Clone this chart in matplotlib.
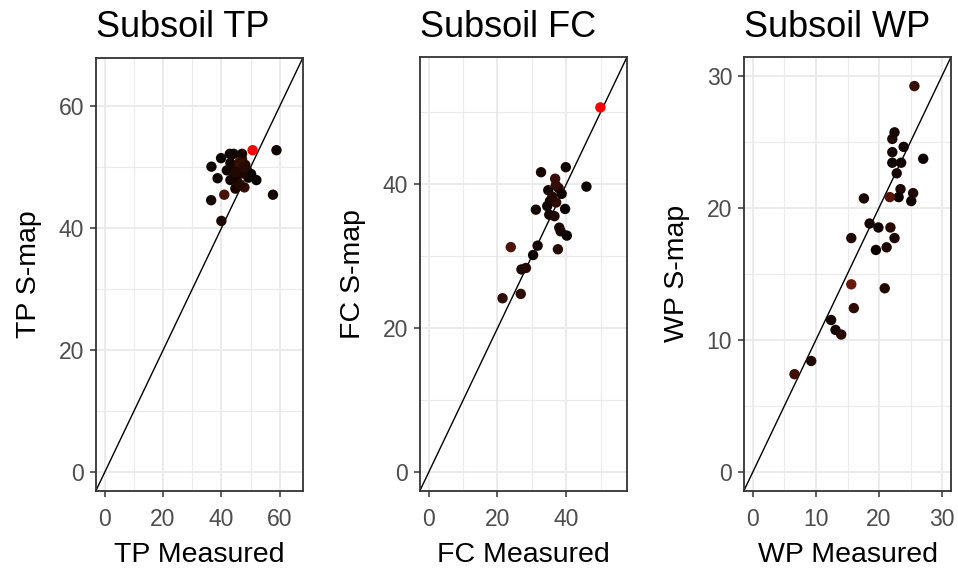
import matplotlib
import numpy as np

matplotlib.use("Agg")
import matplotlib.pyplot as plt
from matplotlib.colors import LinearSegmentedColormap

# Subsoil TP
tp_meas = [50.7, 58.9, 57.7, 52.0, 36.6, 38.7, 36.5, 41.0, 40.0, 39.9, 42.9, 43.1, 44.8, 47.9, 47.1,
           44.8, 41.9, 46.0, 48.8, 49.3, 44.2, 47.1, 45.4, 50.2, 43.1, 48.2, 44.2, 46.5, 45.8, 47.5,
           46.2, 45.0, 47.8]
tp_smap = [52.8, 52.8, 45.5, 47.9, 50.1, 48.2, 44.6, 45.5, 41.2, 51.5, 52.2, 47.9, 46.5, 46.7, 51.3,
           50.1, 49.5, 48.9, 49.5, 48.3, 52.2, 52.2, 47.7, 48.9, 50.7, 50.4, 48.3, 47.1, 49.8, 49.0,
           50.8, 49.2, 50.0]
tp_col = [1.0, 0.08, 0.1, 0.05, 0.1, 0.08, 0.12, 0.38, 0.15, 0.05, 0.08, 0.1, 0.12, 0.28, 0.3,
          0.15, 0.1, 0.2, 0.08, 0.05, 0.1, 0.12, 0.18, 0.05, 0.1, 0.22, 0.12, 0.2, 0.25, 0.15,
          0.3, 0.18, 0.22]

# Subsoil FC
fc_meas = [49.95, 39.9, 32.7, 36.8, 45.9, 34.8, 37.8, 38.7, 35.3, 37.1, 39.7, 31.2, 35.1, 36.6,
           38.0, 38.4, 40.2, 31.7, 23.9, 37.6, 30.4, 27.0, 28.3, 21.5, 26.8, 36.0, 37.0, 34.5]
fc_smap = [50.7, 42.4, 41.7, 40.8, 39.7, 39.2, 39.5, 38.7, 37.7, 37.5, 36.6, 36.5, 35.8, 35.6,
           34.0, 33.5, 32.9, 31.5, 31.3, 31.0, 30.2, 28.2, 28.4, 24.2, 24.8, 38.3, 39.9, 37.0]
fc_col = [1.0, 0.08, 0.12, 0.32, 0.05, 0.1, 0.15, 0.08, 0.1, 0.28, 0.05, 0.12, 0.1, 0.18,
          0.15, 0.12, 0.05, 0.1, 0.4, 0.22, 0.08, 0.15, 0.2, 0.28, 0.25, 0.2, 0.3, 0.1]

# Subsoil WP
wp_meas = [25.6, 22.45, 22.1, 23.9, 22.1, 22.1, 23.5, 22.8, 27.0, 23.4, 23.1, 21.7, 25.4, 25.1, 17.6,
           18.5, 19.9, 21.8, 22.45, 15.6, 19.5, 21.2, 15.6, 20.9, 16.0, 12.4, 13.1, 14.0, 9.25, 6.6]
wp_smap = [29.2, 25.7, 25.2, 24.6, 24.2, 23.4, 23.4, 22.6, 23.7, 21.4, 20.8, 20.8, 21.1, 20.5, 20.7,
           18.8, 18.5, 18.5, 17.7, 17.7, 16.8, 17.0, 14.2, 13.9, 12.4, 11.5, 10.75, 10.4, 8.4, 7.4]
wp_col = [0.32, 0.12, 0.15, 0.1, 0.12, 0.08, 0.1, 0.12, 0.05, 0.15, 0.05, 0.42, 0.18, 0.08, 0.12,
          0.1, 0.08, 0.22, 0.15, 0.18, 0.05, 0.15, 0.48, 0.2, 0.25, 0.1, 0.12, 0.22, 0.18, 0.35]

panels = [
    ("Subsoil TP", "TP Measured", "TP S-map", tp_meas, tp_smap, tp_col, (-3.0, 68.0), [0, 20, 40, 60]),
    ("Subsoil FC", "FC Measured", "FC S-map", fc_meas, fc_smap, fc_col, (-2.5, 57.7), [0, 20, 40]),
    ("Subsoil WP", "WP Measured", "WP S-map", wp_meas, wp_smap, wp_col, (-1.4, 31.4), [0, 10, 20, 30]),
]

# ggplot-like black -> red gradient (Lab-ish)
cmap = LinearSegmentedColormap.from_list(
    "blkred", ["#000000", "#1f0803", "#3a0f05", "#6e1a0a", "#a11c0c", "#d31a0b", "#ff0000"])

plt.rcParams["font.family"] = ["Liberation Sans", "DejaVu Sans"]

W, H = 958, 569
fig = plt.figure(figsize=(W / 100, H / 100), dpi=100)

boxes = [(96, 303, 57.5, 490.5), (420, 627, 57, 490.5), (744, 951, 57, 490.5)]

for (title, xl, yl, xs, ys, cs, lim, ticks), (l, r, t, b) in zip(panels, boxes):
    ax = fig.add_axes([l / W, 1 - b / H, (r - l) / W, (b - t) / H])
    step = ticks[1] - ticks[0]
    minor = [v + step / 2 for v in ticks]
    ax.set_xticks(ticks)
    ax.set_yticks(ticks)
    ax.set_xticks(minor, minor=True)
    ax.set_yticks(minor, minor=True)
    ax.set_xlim(*lim)
    ax.set_ylim(*lim)
    ax.grid(which="major", color="#EBEBEB", lw=1.4)
    ax.grid(which="minor", color="#EBEBEB", lw=0.8)
    ax.set_axisbelow(True)
    ax.plot(lim, lim, color="black", lw=1.0, zorder=2)
    ax.scatter(xs, ys, c=[cmap(v) for v in cs], s=56, linewidths=0, zorder=3)
    for sp in ax.spines.values():
        sp.set_color("#333333")
        sp.set_linewidth(1.3)
    ax.tick_params(which="major", length=4.5, width=1.1, color="#333333",
                   labelcolor="#4D4D4D", labelsize=16.5, pad=4)
    ax.tick_params(axis="x", which="major", pad=8)
    ax.tick_params(which="minor", length=0)
    ax.set_title(title, loc="left", fontsize=26, pad=14.5)
    ax.set_xlabel(xl, fontsize=20.5, labelpad=8)
    ax.set_ylabel(yl, fontsize=20.5, labelpad=12)

fig.savefig("out.png", dpi=100)
